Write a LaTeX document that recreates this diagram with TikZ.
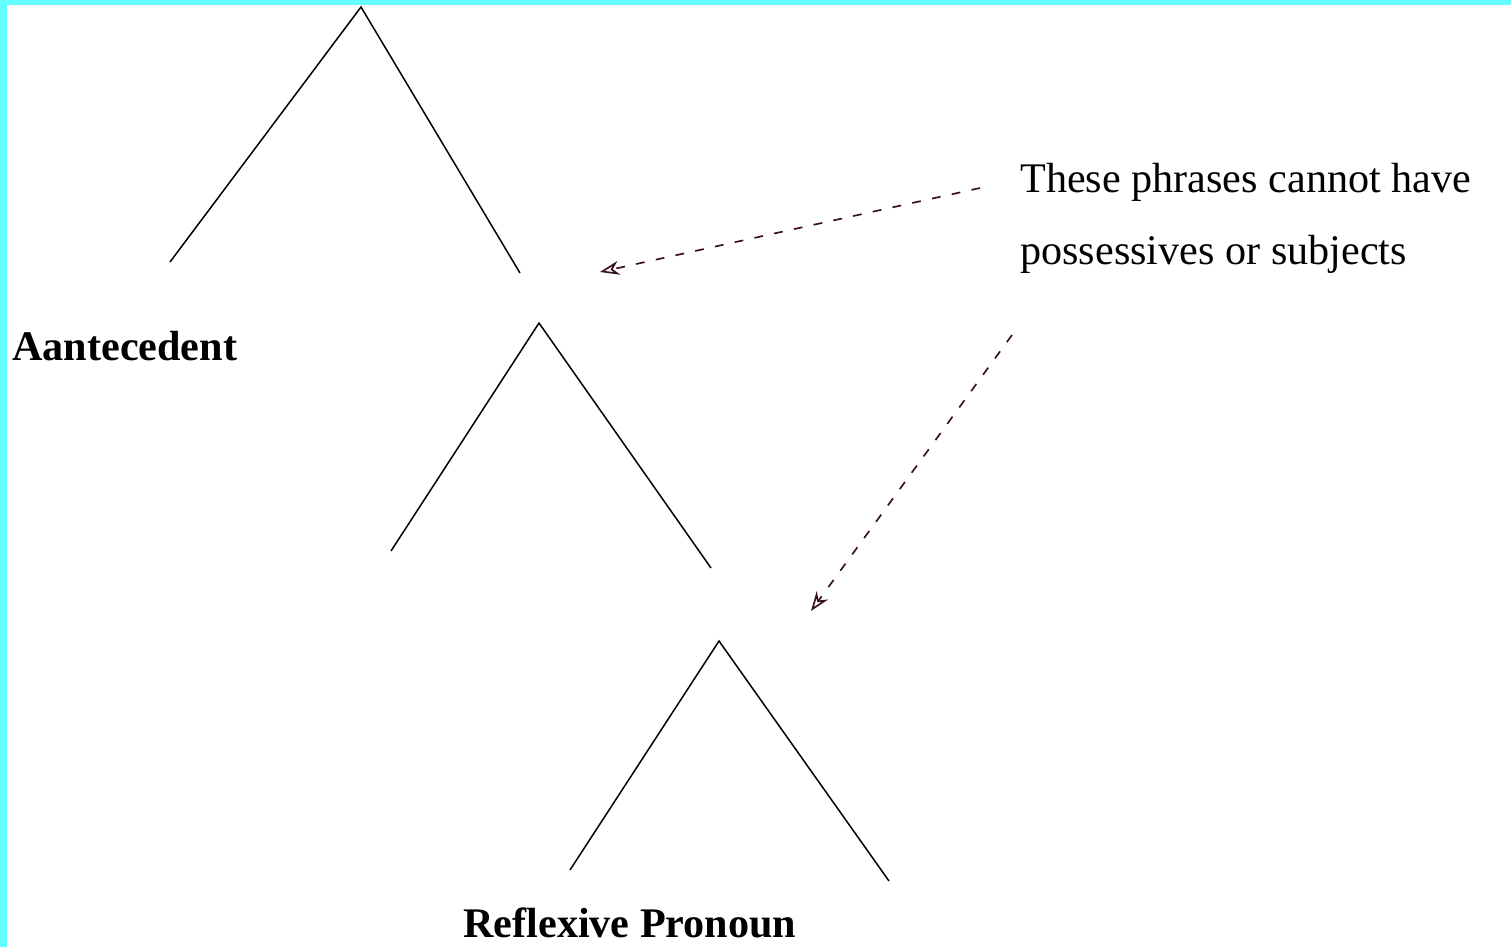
\documentclass[tikz,border=0pt]{standalone}
\usepackage{fontspec}
\setmainfont{Liberation Serif}
\usetikzlibrary{arrows.meta}
\definecolor{bordercyan}{HTML}{66FFFF}
\definecolor{arrowred}{HTML}{3A1020}
\tikzset{
  tri/.style={draw=black, line width=0.85pt, line join=miter},
  note/.style={dash pattern=on 5pt off 6.5pt, draw=arrowred, line width=0.95pt,
    -{Stealth[open, length=11pt, width=8pt]}},
  lbl/.style={inner sep=0pt, font=\fontsize{24}{40.8}\selectfont\bfseries, anchor=base west},
  txt/.style={inner sep=0pt, font=\fontsize{24}{40.8}\selectfont, anchor=base west, align=left},
}
\begin{document}
\begin{tikzpicture}[x=0.02cm, y=-0.02cm]
  \useasboundingbox (0,0) rectangle (1511,947);
  \fill[white] (0,0) rectangle (1511,947);
  \fill[bordercyan] (0,0) rectangle (1511,5);
  \fill[bordercyan] (0,0) rectangle (7,947);

  % triangle 1
  \coordinate (t1a) at (361,7);
  \coordinate (t1l) at (170,262);
  \coordinate (t1r) at (520,273);
  % triangle 2
  \coordinate (t2a) at (539,323);
  \coordinate (t2l) at (391,551);
  \coordinate (t2r) at (711,568);
  % triangle 3
  \coordinate (t3a) at (719,641);
  \coordinate (t3l) at (570,870);
  \coordinate (t3r) at (889,881);

  \draw[tri] (t1l) -- (t1a) -- (t1r);
  \draw[tri] (t2l) -- (t2a) -- (t2r);
  \draw[tri] (t3l) -- (t3a) -- (t3r);

  \node[lbl] (ante) at (12,360) {Aantecedent};
  \node[lbl] (refl) at (463,937) {Reflexive Pronoun};
  \node[txt] (note) at (1020,264) {These phrases cannot have\\possessives or subjects};

  \coordinate (s1) at (980,188);
  \coordinate (e1) at (600,272);
  \coordinate (s2) at (1012,335);
  \coordinate (e2) at (811,611);
  \draw[note] (s1) -- (e1);
  \draw[note] (s2) -- (e2);
\end{tikzpicture}
\end{document}
